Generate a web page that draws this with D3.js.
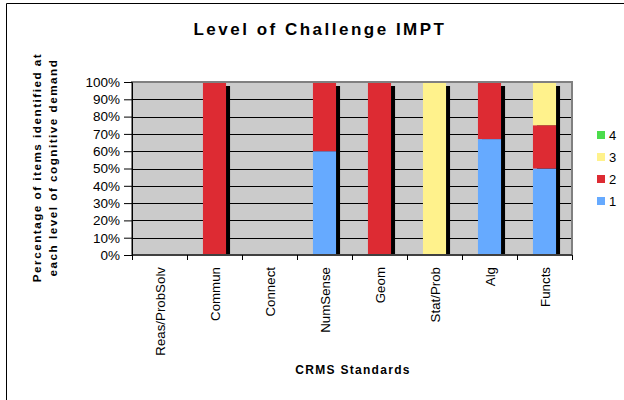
<!DOCTYPE html>
<html>
<head>
<meta charset="utf-8">
<script src="https://cdn.jsdelivr.net/npm/d3@7"></script>
<style>
  body { margin: 0; background: #fff; }
  svg { font-family: "Liberation Sans", Arial, sans-serif; }
</style>
</head>
<body>
<div id="chart"></div>
<script>
// categories and series (percent of items at each level)
const categories = ["Reas/ProbSolv", "Commun", "Connect", "NumSense", "Geom", "Stat/Prob", "Alg", "Functs"];
const level1 = [0, 0, 0, 60, 0, 0, 67, 50];
const level2 = [0, 100, 0, 40, 100, 0, 33, 25];
const level3 = [0, 0, 0, 0, 0, 100, 0, 25];
const level4 = [0, 0, 0, 0, 0, 0, 0, 0];
const levels = ["1", "2", "3", "4"];
const yTicks = [0, 10, 20, 30, 40, 50, 60, 70, 80, 90, 100];

const colors = { "1": "#66aaff", "2": "#dd2b33", "3": "#fff28c", "4": "#4cdc4c" };

const width = 624, height = 400;
const margin = { top: 82, right: 52, bottom: 145, left: 132 };
const innerWidth = width - margin.left - margin.right;
const innerHeight = height - margin.top - margin.bottom;

// build table for the stack
const table = categories.map((c, i) => ({
    cat: c, "1": level1[i], "2": level2[i], "3": level3[i], "4": level4[i]
}));
const series = d3.stack().keys(levels)(table);

const xScale = d3.scaleBand()
    .domain(categories)
    .range([0, innerWidth])
    .paddingInner(0.58)
    .paddingOuter(0.29);

const yScale = d3.scaleLinear()
    .domain([0, 100])
    .range([innerHeight, 0]);

const svg = d3.select("#chart").append("svg")
    .attr("width", width)
    .attr("height", height);

// outer frame (left and top edges visible)
svg.append("path")
    .attr("d", "M6.5,400V3.5H624")
    .attr("fill", "none")
    .attr("stroke", "#000")
    .attr("stroke-width", 1);

// title
svg.append("text")
    .attr("x", 320)
    .attr("y", 35)
    .attr("text-anchor", "middle")
    .style("font-size", "17px")
    .style("font-weight", "bold")
    .style("letter-spacing", "2.5px")
    .text("Level of Challenge IMPT");

const g = svg.append("g")
    .attr("transform", `translate(${margin.left},${margin.top})`);

// plot background
g.append("rect")
    .attr("width", innerWidth)
    .attr("height", innerHeight)
    .attr("fill", "#cbcbcb");

// gridlines
g.selectAll(".grid")
    .data(yTicks.slice(1, -1))
    .enter().append("line")
    .attr("x1", 0).attr("x2", innerWidth)
    .attr("y1", d => Math.round(yScale(d)) + 0.5)
    .attr("y2", d => Math.round(yScale(d)) + 0.5)
    .attr("stroke", "#000")
    .attr("stroke-width", 1);

// clip so shadows stop at the axis
g.append("clipPath").attr("id", "plotclip")
    .append("rect").attr("width", innerWidth).attr("height", innerHeight);

// shadows
g.append("g").attr("clip-path", "url(#plotclip)")
    .selectAll("rect")
    .data(table.filter(d => d["1"] + d["2"] + d["3"] + d["4"] > 0))
    .enter().append("rect")
    .attr("x", d => xScale(d.cat) + 4)
    .attr("y", d => yScale(d["1"] + d["2"] + d["3"] + d["4"]) + 4)
    .attr("width", xScale.bandwidth())
    .attr("height", innerHeight)
    .attr("fill", "#000");

// stacked bars
g.selectAll(".layer")
    .data(series)
    .enter().append("g")
    .attr("fill", d => colors[d.key])
    .selectAll("rect")
    .data(d => d)
    .enter().append("rect")
    .attr("x", d => xScale(d.data.cat))
    .attr("y", d => yScale(d[1]))
    .attr("width", xScale.bandwidth())
    .attr("height", d => yScale(d[0]) - yScale(d[1]));

// plot border
g.append("rect")
    .attr("width", innerWidth)
    .attr("height", innerHeight)
    .attr("fill", "none")
    .attr("stroke", "#808080")
    .attr("stroke-width", 2);

// y axis
const yAxis = d3.axisLeft(yScale)
    .tickValues(yTicks)
    .tickFormat(d => d + "%")
    .tickSize(8)
    .tickPadding(4);
const yg = g.append("g").call(yAxis);
yg.select(".domain").attr("stroke", "#000");
yg.selectAll("text").style("font-size", "13.5px").attr("fill", "#000");

// x axis with ticks at category boundaries
const step = xScale.step();
const xg = g.append("g").attr("transform", `translate(0,${innerHeight})`);
xg.append("line").attr("x1", 0).attr("x2", innerWidth).attr("stroke", "#000");
xg.selectAll(".xt")
    .data(d3.range(categories.length + 1))
    .enter().append("line")
    .attr("x1", i => i * step + 0.5).attr("x2", i => i * step + 0.5)
    .attr("y1", 0).attr("y2", 5)
    .attr("stroke", "#000");
xg.selectAll(".xl")
    .data(categories)
    .enter().append("text")
    .attr("transform", d => `translate(${xScale(d) + xScale.bandwidth() / 2 + 5.5},12) rotate(-90)`)
    .attr("text-anchor", "end")
    .style("font-size", "13.3px")
    .text(d => d);

// axis titles
svg.append("text")
    .attr("x", margin.left + innerWidth / 2 + 1)
    .attr("y", 374)
    .attr("text-anchor", "middle")
    .style("font-size", "12px")
    .style("font-weight", "bold")
    .style("letter-spacing", "1.3px")
    .text("CRMS Standards");

const yTitle = svg.append("text")
    .attr("transform", `translate(0,${margin.top + innerHeight / 2 - 1}) rotate(-90)`)
    .attr("text-anchor", "middle")
    .style("font-size", "11.7px")
    .style("font-weight", "bold")
    .style("letter-spacing", "1.5px");
yTitle.append("tspan").attr("x", 0).attr("y", 41).text("Percentage of items identified at");
yTitle.append("tspan").attr("x", 0).attr("y", 57).text("each level of cognitive demand");

// legend
const legend = svg.append("g").attr("transform", "translate(597,131)");
const legItems = legend.selectAll("g")
    .data(levels.slice().reverse())
    .enter().append("g")
    .attr("transform", (d, i) => `translate(0,${i * 22})`);
legItems.append("rect")
    .attr("width", 8).attr("height", 8)
    .attr("fill", d => colors[d]);
legItems.append("text")
    .attr("x", 12).attr("y", 8.5)
    .style("font-size", "13px")
    .text(d => d);
</script>
</body>
</html>
